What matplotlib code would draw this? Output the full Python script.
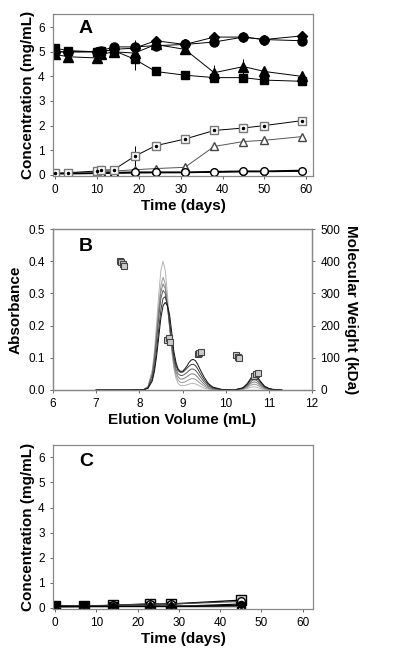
import matplotlib
matplotlib.use('Agg')
import matplotlib.pyplot as plt

plt.rcParams['font.family'] = ['Liberation Sans', 'DejaVu Sans']

# Panel A: concentration over time (days)
time_a = [0, 3, 10, 11, 14, 19, 24, 31, 38, 45, 50, 59]
circ_fill = [5.0, 5.0, 5.0, 5.05, 5.2, 5.2, 5.25, 5.3, 5.4, 5.6, 5.5, 5.45]
diam_fill = [5.0, 5.0, 5.0, 5.0, 5.1, 5.15, 5.45, 5.3, 5.6, 5.6, 5.5, 5.65]
tri_fill = [4.9, 4.8, 4.75, 4.9, 5.0, 4.95, 5.3, 5.1, 4.15, 4.4, 4.2, 4.0]
sq_fill = [5.15, 5.05, 5.0, 5.05, 5.05, 4.7, 4.2, 4.05, 3.95, 3.95, 3.85, 3.8]
sq_open = [0.05, 0.08, 0.15, 0.18, 0.2, 0.75, 1.18, 1.45, 1.8, 1.9, 2.0, 2.2]
tri_open = [0.05, 0.05, 0.08, 0.1, 0.15, 0.2, 0.25, 0.3, 1.15, 1.35, 1.4, 1.55]
circ_open = [0.05, 0.05, 0.06, 0.07, 0.08, 0.1, 0.1, 0.1, 0.12, 0.14, 0.14, 0.17]
diam_open = [0.04, 0.04, 0.05, 0.05, 0.06, 0.07, 0.08, 0.08, 0.1, 0.12, 0.12, 0.14]
err_sq_fill = [0, 0, 0, 0, 0, 0.45, 0, 0, 0, 0, 0, 0]
err_tri_fill = [0, 0, 0, 0, 0, 0.1, 0, 0.15, 0.3, 0.3, 0, 0]
err_circ_fill = [0, 0, 0, 0, 0, 0.3, 0, 0, 0.15, 0, 0, 0]
err_sq_open = [0, 0, 0, 0, 0, 0.4, 0, 0, 0, 0, 0, 0]

# Panel B: chromatograms (absorbance vs elution volume) and molecular weight
elution = [7.0, 7.8, 8.1, 8.2, 8.3, 8.35, 8.4, 8.45, 8.5, 8.55, 8.6, 8.65, 8.7,
           8.75, 8.8, 8.85, 8.9, 8.95, 9.0, 9.05, 9.1, 9.15, 9.2, 9.25, 9.3,
           9.35, 9.4, 9.5, 9.6, 9.7, 9.9, 10.2, 10.4, 10.5, 10.55, 10.6, 10.65,
           10.7, 10.75, 10.8, 10.9, 11.0, 11.1, 11.3]
abs_1 = [0, 0, 0.001, 0.011, 0.063, 0.122, 0.206, 0.298, 0.372, 0.40, 0.372, 0.298, 0.206,
         0.125, 0.068, 0.036, 0.02, 0.014, 0.013, 0.014, 0.016, 0.018, 0.02, 0.02, 0.019,
         0.016, 0.012, 0.006, 0.003, 0.001, 0, 0, 0.002, 0.005, 0.007, 0.009, 0.01,
         0.009, 0.007, 0.005, 0.002, 0.001, 0, 0]
abs_2 = [0, 0, 0.001, 0.01, 0.055, 0.107, 0.18, 0.26, 0.325, 0.35, 0.33, 0.27, 0.195,
         0.125, 0.075, 0.045, 0.03, 0.024, 0.023, 0.025, 0.028, 0.032, 0.035, 0.035, 0.033,
         0.028, 0.022, 0.012, 0.005, 0.002, 0, 0, 0.003, 0.008, 0.012, 0.016, 0.018,
         0.017, 0.014, 0.01, 0.004, 0.002, 0.001, 0]
abs_3 = [0, 0, 0.001, 0.009, 0.05, 0.1, 0.17, 0.245, 0.305, 0.33, 0.315, 0.265, 0.2,
         0.135, 0.085, 0.055, 0.04, 0.034, 0.034, 0.037, 0.041, 0.046, 0.05, 0.05, 0.047,
         0.04, 0.032, 0.018, 0.008, 0.003, 0, 0, 0.004, 0.011, 0.017, 0.022, 0.025,
         0.024, 0.02, 0.014, 0.006, 0.002, 0.001, 0]
abs_4 = [0, 0, 0.001, 0.008, 0.045, 0.09, 0.155, 0.225, 0.285, 0.31, 0.3, 0.26, 0.2,
         0.14, 0.095, 0.065, 0.05, 0.045, 0.045, 0.049, 0.054, 0.06, 0.065, 0.065, 0.061,
         0.053, 0.043, 0.025, 0.012, 0.005, 0.001, 0, 0.005, 0.014, 0.021, 0.028, 0.032,
         0.031, 0.026, 0.019, 0.008, 0.003, 0.001, 0]
abs_5 = [0, 0, 0.001, 0.006, 0.035, 0.07, 0.125, 0.19, 0.25, 0.285, 0.29, 0.265, 0.215,
         0.155, 0.105, 0.075, 0.06, 0.055, 0.055, 0.06, 0.067, 0.074, 0.079, 0.08, 0.076,
         0.066, 0.054, 0.032, 0.016, 0.007, 0.001, 0, 0.006, 0.017, 0.026, 0.035, 0.04,
         0.039, 0.033, 0.024, 0.01, 0.004, 0.001, 0]
abs_6 = [0, 0, 0.001, 0.005, 0.028, 0.058, 0.105, 0.165, 0.225, 0.262, 0.272, 0.262, 0.235,
         0.18, 0.12, 0.085, 0.065, 0.058, 0.058, 0.065, 0.074, 0.085, 0.093, 0.095, 0.091,
         0.08, 0.066, 0.04, 0.02, 0.009, 0.002, 0, 0.007, 0.02, 0.03, 0.04, 0.046,
         0.045, 0.038, 0.028, 0.012, 0.005, 0.002, 0]
mw_vol = [7.55, 7.58, 7.62, 7.65, 8.65, 8.68, 8.7, 9.35, 9.38, 9.42,
          10.25, 10.28, 10.3, 10.65, 10.7, 10.75]
mw_kda = [400, 398, 390, 385, 155, 160, 150, 112, 115, 118,
          110, 102, 98, 45, 50, 53]

# Panel C: concentration over time (days)
time_c = [0, 7, 14, 23, 28, 45]
c_sq_open = [0.05, 0.05, 0.1, 0.15, 0.15, 0.3]
c_sq_fill = [0.05, 0.05, 0.05, 0.05, 0.05, 0.05]
c_circ_open = [0.05, 0.08, 0.1, 0.15, 0.15, 0.25]
c_circ_fill = [0.08, 0.06, 0.05, 0.08, 0.05, 0.15]
c_tri_open = [0.02, 0.05, 0.05, 0.1, 0.1, 0.05]
c_diam_fill = [0.05, 0.05, 0.05, 0.06, 0.05, 0.1]

fig = plt.figure(figsize=(4, 6.54), dpi=100)
ax_a = fig.add_axes([0.1325, 0.731, 0.65, 0.248])
ax_b = fig.add_axes([0.1325, 0.4037, 0.6475, 0.246])
ax_c = fig.add_axes([0.1325, 0.0688, 0.65, 0.251])

def style_axes(ax):  # grey frame, small ticks
    for s in ax.spines.values():
        s.set_color('#888888')
        s.set_linewidth(0.9)
    ax.tick_params(labelsize=8.5, length=2.5, width=0.7, color='#666666')

# ---- Panel A ----
ax_a.errorbar(time_a, sq_open, yerr=err_sq_open, color='black', lw=0.7, marker='s', ms=5.5,
              mfc='white', mec='#777777', capsize=0, zorder=2)
ax_a.plot(time_a, sq_open, ls='none', marker='.', ms=3, color='black', zorder=3)
ax_a.plot(time_a, tri_open, color='#555555', lw=0.7, marker='^', ms=6, mfc='white', mec='#444444')
ax_a.plot(time_a, diam_open, color='black', lw=0.8, marker='D', ms=4.5, mfc='white', mec='black')
ax_a.plot(time_a, circ_open, color='black', lw=1.2, marker='o', ms=5.5, mfc='white', mec='black')
ax_a.errorbar(time_a, sq_fill, yerr=err_sq_fill, color='black', lw=0.7, marker='s', ms=6, capsize=0)
ax_a.errorbar(time_a, tri_fill, yerr=err_tri_fill, color='black', lw=0.7, marker='^', ms=6.5, capsize=0)
ax_a.errorbar(time_a, circ_fill, yerr=err_circ_fill, color='black', lw=0.7, marker='o', ms=6.5, capsize=0)
ax_a.plot(time_a, diam_fill, color='black', lw=0.7, marker='D', ms=5.5)
ax_a.set_xlim(-0.5, 61.6)
ax_a.set_ylim(-0.05, 6.55)
ax_a.set_xticks(range(0, 61, 10))
ax_a.set_yticks(range(0, 7))
ax_a.set_xlabel('Time (days)', fontsize=11, fontweight='bold', labelpad=2)
ax_a.set_ylabel('Concentration (mg/mL)', fontsize=11, fontweight='bold', labelpad=2)
ax_a.text(0.1, 0.91, 'A', transform=ax_a.transAxes, fontsize=14, fontweight='bold', va='center')
style_axes(ax_a)

# ---- Panel B ----
curves = [abs_1, abs_2, abs_3, abs_4, abs_5, abs_6]
shades = ['#b5b5b5', '#9a9a9a', '#808080', '#606060', '#3a3a3a', '#111111']
for vals, col in zip(curves, shades):
    ax_b.plot(elution, vals, color=col, lw=0.7)
ax_b.set_xlim(6, 12)
ax_b.set_ylim(0, 0.5)
ax_b.set_yticks([0, 0.1, 0.2, 0.3, 0.4, 0.5])
ax_b.set_yticklabels(['0.0', '0.1', '0.2', '0.3', '0.4', '0.5'])
ax_b.set_xlabel('Elution Volume (mL)', fontsize=11, fontweight='bold', labelpad=2)
ax_b.set_ylabel('Absorbance', fontsize=11, fontweight='bold', labelpad=4)
ax_b.text(0.1, 0.89, 'B', transform=ax_b.transAxes, fontsize=14, fontweight='bold', va='center')
style_axes(ax_b)
ax_b2 = ax_b.twinx()
ax_b2.plot(mw_vol, mw_kda, ls='none', marker='s', ms=5, mfc='#cccccc', mec='#444444', mew=0.8)
ax_b2.set_ylim(0, 500)
ax_b2.set_yticks(range(0, 501, 100))
ax_b2.set_ylabel('Molecular Weight (kDa)', fontsize=11, fontweight='bold', rotation=270, labelpad=13)
style_axes(ax_b2)

# ---- Panel C ----
ax_c.plot(time_c, c_sq_open, color='black', lw=1.0, marker='s', ms=7, mfc='#dddddd', mec='black')
ax_c.plot(time_c, c_sq_fill, color='black', lw=1.0, marker='s', ms=6)
ax_c.plot(time_c, c_circ_open, color='#444444', lw=0.8, marker='o', ms=5.5, mfc='white', mec='black')
ax_c.plot(time_c, c_circ_fill, color='black', lw=0.8, marker='o', ms=4.5)
ax_c.plot(time_c, c_tri_open, color='#555555', lw=0.8, marker='^', ms=5.5, mfc='white', mec='black')
ax_c.plot(time_c, c_diam_fill, color='black', lw=0.8, marker='D', ms=3.5)
ax_c.set_xlim(-0.5, 62.5)
ax_c.set_ylim(-0.05, 6.5)
ax_c.set_xticks(range(0, 61, 10))
ax_c.set_yticks(range(0, 7))
ax_c.set_xlabel('Time (days)', fontsize=11, fontweight='bold', labelpad=2)
ax_c.set_ylabel('Concentration (mg/mL)', fontsize=11, fontweight='bold', labelpad=2)
ax_c.text(0.1, 0.9, 'C', transform=ax_c.transAxes, fontsize=14, fontweight='bold', va='center')
style_axes(ax_c)

fig.savefig('out.png', dpi=100)
